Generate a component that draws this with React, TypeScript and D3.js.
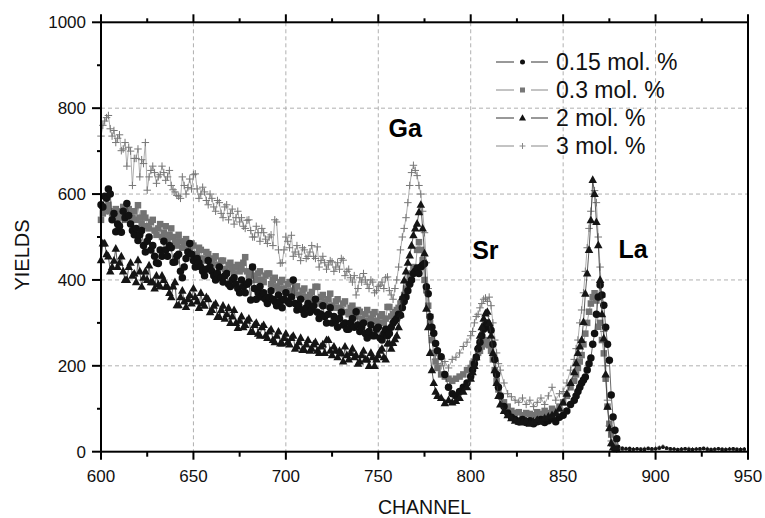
import React from "react";
import * as d3 from "d3";

// Channel grid of the measured points
const CHANNELS: number[] = [
  ...d3.range(600, 760, 1),
  ...d3.range(760, 782, 1),
  ...d3.range(782, 800, 2),
  ...d3.range(800, 816, 1),
  ...d3.range(816, 856, 2),
  ...d3.range(856, 880, 1),
  ...d3.range(880, 950, 2),
];

const S3: number[] = [
  735,760,770,778,783,752,735,748,720,730,
  738,701,705,720,665,709,700,620,683,683,
  705,640,680,671,720,609,640,655,665,650,
  625,640,645,665,650,632,640,655,620,610,
  605,597,595,590,640,620,600,615,635,612,
  645,647,612,590,600,616,605,585,575,600,
  590,570,560,585,580,555,545,570,575,540,
  555,565,530,545,560,535,545,525,520,539,
  540,515,500,500,525,510,490,520,510,495,
  485,500,505,480,540,535,470,439,440,470,
  500,490,475,504,455,465,480,460,445,475,
  470,450,455,465,480,455,450,477,430,445,
  455,440,425,435,445,442,420,430,440,425,
  450,446,410,420,425,405,395,410,365,380,
  405,395,415,400,390,380,400,395,370,375,
  385,388,395,380,405,407,375,365,355,380,
  400,430,470,500,520,545,580,620,650,667,655,643,620,600,560,510,440,380,320,270,225,215,
  205,200,210,195,215,220,230,245,255,
  270,280,300,315,320,335,345,355,358,350,360,340,300,260,230,205,
  190,160,135,128,120,115,125,110,120,105,115,125,110,130,150,120,135,140,160,190,
  215,240,260,300,330,370,420,475,520,560,600,608,580,500,430,360,280,200,120,60,25,12,8,6,
  7,6,8,6,7,5,6,8,7,6,9,11,13,9,7,6,5,7,6,8,6,5,7,6,8,6,5,7,6,5,7,6,5,6,7,
];

const S015: number[] = [
  575,570,595,590,612,600,540,555,512,530,
  525,511,560,545,578,550,530,515,505,520,
  492,505,515,480,465,490,500,470,480,455,
  440,438,470,455,490,470,455,480,475,441,
  442,455,460,420,405,430,450,465,485,460,
  445,430,450,440,430,420,410,425,445,430,
  420,410,400,415,430,405,395,410,415,390,
  385,400,405,390,380,370,400,385,370,390,
  395,353,430,380,355,370,385,360,370,355,
  345,360,375,355,350,340,365,350,335,355,
  370,350,345,360,400,345,330,340,355,330,
  320,335,345,325,330,340,355,325,310,320,
  340,315,300,320,335,300,315,305,290,310,
  325,295,300,285,285,300,310,290,326,295,
  280,290,300,275,265,280,295,270,270,285,
  290,265,260,275,285,270,275,290,300,305,
  310,320,318,335,350,360,375,390,400,415,420,428,415,430,435,438,384,368,314,290,276,252,
  235,221,180,150,135,130,140,150,160,
  175,190,205,220,240,255,270,285,295,300,290,283,250,215,180,150,
  130,105,90,80,75,70,75,68,72,65,70,75,68,72,78,70,80,85,95,110,
  120,130,140,150,160,167,174,190,205,218,250,275,320,360,388,365,341,290,250,213,132,81,50,30,
  12,9,7,8,6,7,5,6,8,7,6,8,10,9,7,6,5,6,7,6,5,6,7,8,6,5,6,7,6,5,6,7,6,5,6,
];

const S03: number[] = [
  540,555,560,570,575,560,555,545,565,550,
  545,560,570,540,550,565,535,545,560,540,
  574,545,530,555,545,525,520,535,540,515,
  505,520,530,500,510,525,495,505,520,500,
  490,480,505,490,475,485,495,470,470,485,
  480,460,455,475,470,450,445,465,460,440,
  440,450,455,435,430,445,445,425,420,435,
  440,425,415,430,435,420,425,440,453,420,
  410,420,430,410,400,415,420,400,395,410,
  415,415,390,400,405,385,380,395,400,380,
  375,390,395,375,370,380,385,365,360,375,
  380,360,350,365,372,355,384,384,345,360,
  365,350,340,355,368,340,335,350,355,335,
  330,345,350,325,320,335,340,320,315,330,
  326,310,305,320,330,305,310,320,325,305,
  300,315,320,300,310,337,337,315,320,325,
  330,335,345,355,365,380,395,410,415,430,422,470,488,470,446,400,376,340,300,260,230,210,
  195,180,175,170,165,170,175,180,190,
  195,205,210,220,230,235,245,250,260,255,248,235,215,190,165,145,
  130,115,105,95,90,92,85,90,88,85,92,88,95,90,100,95,105,115,130,150,
  165,180,195,210,225,250,275,300,326,345,360,369,352,291,300,260,229,170,105,65,40,20,12,8,
  8,7,6,7,5,6,7,6,8,6,7,9,11,8,7,6,5,6,7,6,5,6,7,8,6,5,6,7,6,5,6,7,6,5,6,
];

const S2: number[] = [
  446,485,485,460,455,420,430,445,473,430,
  440,455,420,400,400,430,440,410,415,395,
  446,420,384,405,420,400,434,395,395,380,
  410,390,385,410,400,384,384,370,360,385,
  395,341,341,360,375,350,337,355,365,345,
  380,360,350,335,370,345,340,360,355,325,
  330,340,345,314,314,330,340,310,320,335,
  300,315,330,300,288,305,315,290,295,305,
  310,279,279,295,300,275,270,290,295,270,
  265,280,285,260,255,270,280,252,252,265,
  275,255,250,265,270,240,245,255,265,237,
  237,250,260,235,240,250,255,235,230,245,
  250,230,260,260,235,225,245,235,220,235,
  229,210,245,225,215,230,240,220,225,205,
  210,225,235,215,215,200,230,220,200,215,
  225,235,240,220,215,252,252,240,253,262,
  270,290,320,360,399,420,440,457,480,504,520,531,558,575,520,462,333,290,230,190,160,140,
  130,125,113,120,115,118,125,140,150,
  170,185,200,220,245,270,290,310,322,326,300,270,230,190,160,130,
  110,95,85,78,72,70,68,72,65,70,75,70,78,82,85,90,100,115,135,160,
  185,206,230,245,260,302,368,415,470,539,633,600,535,481,400,320,264,180,105,55,20,10,7,6,
  7,6,7,5,6,7,6,5,7,6,8,9,12,8,6,7,5,6,7,5,6,7,6,7,6,5,6,7,5,6,7,6,5,6,6,
];

const LEGEND_LABELS = ["0.15 mol. %", "0.3 mol. %", "2 mol. %", "3 mol. %"];
const X_TICKS = [600, 650, 700, 750, 800, 850, 900, 950];
const Y_TICKS = [0, 200, 400, 600, 800, 1000];
const PEAKS = [
  { label: "Ga", ch: 755.5, v: 732 },
  { label: "Sr", ch: 800.8, v: 448 },
  { label: "La", ch: 880, v: 450 },
];

const W = 765, H = 518;
const L = 101, R = 748, T = 22.3, B = 451.7;
const FONT = "'Liberation Sans', Arial, Helvetica, sans-serif";

type Kind = "circle" | "square" | "triangle" | "plus";

function Marker({ kind, x, y, s, fill }: { kind: Kind; x: number; y: number; s: number; fill: string }) {
  if (kind === "circle") return <circle cx={x} cy={y} r={s / 2} fill={fill} />;
  if (kind === "square") return <rect x={x - s / 2} y={y - s / 2} width={s} height={s} fill={fill} />;
  if (kind === "triangle") {
    const h = s * 0.9;
    return <path d={`M${x},${y - h * 0.6}L${x + s / 2},${y + h * 0.4}L${x - s / 2},${y + h * 0.4}Z`} fill={fill} />;
  }
  return (
    <path d={`M${x - s / 2},${y}H${x + s / 2}M${x},${y - s / 2}V${y + s / 2}`} stroke={fill} strokeWidth={1} fill="none" />
  );
}

export default function App() {
  const x = d3.scaleLinear().domain([600, 950]).range([L, R]);
  const y = d3.scaleLinear().domain([0, 1000]).range([B, T]);

  const series = [
    { name: LEGEND_LABELS[3], values: S3, kind: "plus" as Kind, color: "#777777", line: "#999999", size: 7.5 },
    { name: LEGEND_LABELS[1], values: S03, kind: "square" as Kind, color: "#737373", line: "#8a8a8a", size: 6.5 },
    { name: LEGEND_LABELS[0], values: S015, kind: "circle" as Kind, color: "#111111", line: "#444444", size: 7.5 },
    { name: LEGEND_LABELS[2], values: S2, kind: "triangle" as Kind, color: "#151515", line: "#333333", size: 8.5 },
  ];

  const legendItems = [
    { label: LEGEND_LABELS[0], kind: "circle" as Kind, color: "#111", size: 5 },
    { label: LEGEND_LABELS[1], kind: "square" as Kind, color: "#777", size: 5 },
    { label: LEGEND_LABELS[2], kind: "triangle" as Kind, color: "#111", size: 7 },
    { label: LEGEND_LABELS[3], kind: "plus" as Kind, color: "#888", size: 6 },
  ];

  const line = d3
    .line<[number, number]>()
    .x((d) => x(d[0]))
    .y((d) => y(d[1]));

  const xMinor = d3.range(625, 950, 50);
  const yMinor = d3.range(100, 1000, 200);

  return (
    <svg width={W} height={H} style={{ position: "absolute", left: 0, top: 0, background: "#fff" }} fontFamily={FONT}>
      <rect width={W} height={H} fill="#fff" />
      {/* grid */}
      {X_TICKS.filter((t) => t > 600 && t < 950).map((t) => (
        <line key={"gx" + t} x1={x(t)} x2={x(t)} y1={T} y2={B} stroke="#b0b0b0" strokeWidth={1} strokeDasharray="4,3" />
      ))}
      {Y_TICKS.filter((t) => t > 0 && t < 1000).map((t) => (
        <line key={"gy" + t} x1={L} x2={R} y1={y(t)} y2={y(t)} stroke="#b0b0b0" strokeWidth={1} strokeDasharray="4,3" />
      ))}

      {/* series */}
      {series.map((s) => {
        const pts: [number, number][] = CHANNELS.slice(0, s.values.length).map((c, i) => [c, s.values[i]]);
        return (
          <g key={s.name}>
            <path d={line(pts) || ""} fill="none" stroke={s.line} strokeWidth={0.8} />
            {pts.map((p, i) => (
              <Marker key={i} kind={s.kind} x={x(p[0])} y={y(p[1])} s={p[0] >= 880 ? s.size * 0.45 : s.size} fill={s.color} />
            ))}
          </g>
        );
      })}

      {/* frame */}
      <rect x={L} y={T} width={R - L} height={B - T} fill="none" stroke="#000" strokeWidth={2} />

      {/* x ticks bottom and top */}
      {X_TICKS.map((t) => (
        <g key={"xt" + t}>
          <line x1={x(t)} x2={x(t)} y1={B} y2={B + 8} stroke="#000" strokeWidth={2} />
          <line x1={x(t)} x2={x(t)} y1={T} y2={T - 8} stroke="#000" strokeWidth={2} />
          <text x={x(t)} y={B + 30} textAnchor="middle" fontSize={17} fill="#111">
            {t}
          </text>
        </g>
      ))}
      {xMinor.map((t) => (
        <g key={"xm" + t}>
          <line x1={x(t)} x2={x(t)} y1={B} y2={B + 5} stroke="#000" strokeWidth={2} />
          <line x1={x(t)} x2={x(t)} y1={T} y2={T - 4} stroke="#000" strokeWidth={2} />
        </g>
      ))}
      {/* y ticks */}
      {Y_TICKS.map((t) => (
        <g key={"yt" + t}>
          <line x1={L - 9} x2={L} y1={y(t)} y2={y(t)} stroke="#000" strokeWidth={2} />
          <text x={L - 15} y={y(t) + 6} textAnchor="end" fontSize={17} fill="#111">
            {t}
          </text>
        </g>
      ))}
      {yMinor.map((t) => (
        <line key={"ym" + t} x1={L - 4} x2={L} y1={y(t)} y2={y(t)} stroke="#000" strokeWidth={2} />
      ))}

      {/* axis titles */}
      <text x={(L + R) / 2} y={514} textAnchor="middle" fontSize={19.5} fill="#111">
        CHANNEL
      </text>
      <text transform={`translate(28.5, 255) rotate(-90)`} textAnchor="middle" fontSize={20} fill="#111">
        YIELDS
      </text>

      {/* peak labels */}
      {PEAKS.map((p) => (
        <text key={p.label} x={x(p.ch)} y={y(p.v)} textAnchor="start" fontSize={25} fontWeight="bold" fill="#000">
          {p.label}
        </text>
      ))}

      {/* legend */}
      {legendItems.map((it, i) => {
        const cy = 62 + i * 28;
        return (
          <g key={it.label}>
            <line x1={496} x2={514} y1={cy} y2={cy} stroke={it.color === "#111" ? "#333" : "#888"} strokeWidth={1} />
            <line x1={531} x2={548} y1={cy} y2={cy} stroke={it.color === "#111" ? "#333" : "#888"} strokeWidth={1} />
            <Marker kind={it.kind} x={522.5} y={cy} s={it.size} fill={it.color} />
            <text x={556} y={cy + 8} fontSize={23} fill="#111">
              {it.label}
            </text>
          </g>
        );
      })}
    </svg>
  );
}
